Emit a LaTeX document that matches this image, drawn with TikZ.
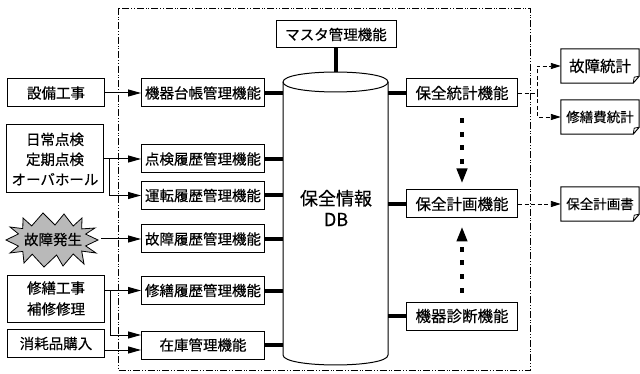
\documentclass[tikz,border=0pt]{standalone}
\usepackage{fontspec}
\setmainfont{Noto Sans CJK JP}[FakeBold=0.3]
\usetikzlibrary{arrows.meta}
\begin{document}
\begin{tikzpicture}[x=1pt,y=-1pt,
  box/.style={draw, line width=1pt, minimum height=28pt, inner sep=0pt, align=center, fill=white,
              font=\fontsize{14.5}{20}\selectfont},
  func/.style={box, minimum width=123pt},
  rfunc/.style={box, minimum width=111pt, font=\fontsize{15.5}{20}\selectfont},
  src/.style={box, minimum width=97pt},
  docnode/.style={minimum width=78pt, minimum height=34pt, inner sep=0pt},
  link/.style={line width=4pt},
  arr/.style={line width=1pt, -{Triangle[length=13pt,width=7pt]}},
  dsh/.style={line width=0.9pt, dash pattern=on 4pt off 2.5pt},
  darr/.style={dsh, -{Triangle[length=10pt,width=6pt]}},
  bigdot/.style={line width=4.5pt, dash pattern=on 5pt off 8.5pt, -{Triangle[length=15pt,width=10pt]}},
  frame/.style={line width=0.9pt, dash pattern=on 7pt off 2pt on 1pt off 1.5pt on 1pt off 2pt},
]
\useasboundingbox (0,0) rectangle (640,374);

% frame
\draw[frame] (118,8) rectangle (530,370);

% cylinder
\draw[line width=1pt] (283,82) -- (283,355) .. controls (283,368.3) and (388,368.3) .. (388,355) -- (388,82);
\draw[line width=1pt] (283,82) .. controls (283,68.7) and (388,68.7) .. (388,82) .. controls (388,95.3) and (283,95.3) .. (283,82);
\node[font=\fontsize{18}{21}\selectfont, align=center] (db) at (336,208) {保全情報\\DB};
\coordinate (cylL) at (283,200);
\coordinate (cylR) at (388,200);
\coordinate (cyltop) at (336,72);

% master
\node[box, minimum width=120pt, minimum height=27pt] (master) at (336,34.5) {マスタ管理機能};
\draw[link] (master.south) -- (master.south |- cyltop);

% left functions
\node[func] (f1) at (203,93) {機器台帳管理機能};
\node[func] (f2) at (203,159) {点検履歴管理機能};
\node[func] (f3) at (203,195.5) {運転履歴管理機能};
\node[func] (f4) at (203,239) {故障履歴管理機能};
\node[func] (f5) at (203,290.5) {修繕履歴管理機能};
\node[func] (f6) at (203,345) {在庫管理機能};
\foreach \f in {f1,f2,f3,f4,f5,f6} \draw[link] (\f.east) -- (\f.east -| cylL);

% right functions
\node[rfunc] (r1) at (462,93) {保全統計機能};
\node[rfunc] (r2) at (462,204) {保全計画機能};
\node[rfunc] (r3) at (462,316) {機器診断機能};
\foreach \f in {r1,r2,r3} \draw[link] (\f.west) -- (\f.west -| cylR);

\draw[bigdot, shorten <=11pt, shorten >=6pt] (r1.south) -- (r2.north);
\draw[bigdot, shorten <=9pt, shorten >=8pt] (r3.north) -- (r2.south);

% sources
\node[src] (s1) at (56,93) {設備工事};
\node[src, minimum height=68pt] (s2) at (55,159) {日常点検\\定期点検\\オーバホール};
\filldraw[fill=gray!55, line width=0.8pt, line join=miter, shift={(52,240)}]
  (46,0) \foreach \px/\py in {
     33.6/5.9, 44/13, 29.7/11.1, 32/24, 21.2/14, 11/26, 4.6/15, -8/27,
     -19.8/14.2, -28/23, -29.2/11.4, -42/13, -33.5/6.1, -46/0, -33.5/-6.1, -42/-13,
     -29.2/-11.4, -29/-22, -20.3/-14.1, -9/-27, 3/-15, 12/-26, 21.2/-14, 30/-22,
     29.7/-11.1, 43/-12, 33.6/-5.9}
  { -- (\px,\py) } -- cycle;
\node[minimum width=96pt, inner sep=0pt, font=\fontsize{14.5}{20}\selectfont] (burst) at (53,239.5) {故障発生};
\node[src, minimum height=47pt, font=\fontsize{14.5}{21}\selectfont] (s3) at (56,298.5) {修繕工事\\補修修理};
\node[src] (s4) at (56,343.5) {消耗品購入};

\draw[arr] (s1.east) -- (f1.west);
\draw[arr] (s2.east |- f2.west) -- (f2.west);
\coordinate (b1) at ([xshift=5pt]s2.east |- f2.west);
\draw[arr] (b1) |- (f3.west);
\draw[arr] (burst.east |- f4.west) -- (f4.west);
\draw[arr] (s3.east |- f5.west) -- (f5.west);
\coordinate (b2) at ([xshift=5pt]s3.east |- f5.west);
\coordinate (f6a) at ([yshift=10pt]f6.west);
\coordinate (f6b) at ([yshift=-5pt]f6.west);
\draw[arr] (b2) |- (f6a);
\draw[arr] (s4.east |- f6b) -- (f6b);

% documents
\node[docnode, font=\fontsize{15.5}{18}\selectfont] (d1) at (600,66) {故障統計};
\node[docnode, font=\fontsize{13.5}{18}\selectfont] (d2) at (600,117) {修繕費統計};
\node[docnode, font=\fontsize{13.5}{18}\selectfont] (d3) at (600,204) {保全計画書};
\foreach \d in {d1,d2,d3} {
  \draw[line width=1pt] (\d.north west) -- (\d.north east) -- ([yshift=7pt]\d.south east)
     -- ([xshift=-6pt]\d.south east) -- (\d.south west) -- cycle;
  \draw[line width=0.8pt] ([xshift=-6pt]\d.south east) -- ([xshift=-5pt,yshift=6pt]\d.south east) -- ([yshift=7pt]\d.south east);
}

\coordinate (j) at (537,93);
\draw[dsh] (r1.east) -- (j);
\draw[darr] (j) |- (d1.west);
\draw[darr] (j) |- (d2.west);
\draw[darr] (r2.east) -- (d3.west);
\end{tikzpicture}
\end{document}
